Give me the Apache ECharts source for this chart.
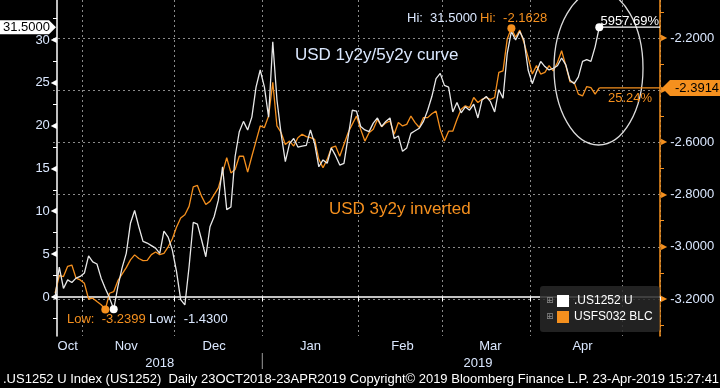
<!DOCTYPE html>
<html><head><meta charset="utf-8">
<script src="https://cdn.jsdelivr.net/npm/echarts@6/dist/echarts.min.js"></script>
<style>html,body{margin:0;padding:0;background:#000}#c{width:720px;height:388px}</style>
</head><body><div id="c"></div>
<script>
// ---- data ----
const startDate = [2018, 9, 23];   // 23 Oct 2018
const endDate = [2019, 4, 13];     // axis runs to 13 May 2019 (weekdays)
const seriesNames = ['.US1252 U', 'USFS032 BLC'];
// USD 1y2y/5y2y curve (left axis)
const usCurve = [0.0,3.5,1.0,2.0,1.7,2.2,2.4,2.8,4.8,4.1,
 3.85,2.2,1.0,-0.1,-1.43,1.2,3.4,5.1,8.6,10.1,
 8.2,6.5,6.3,6.0,5.7,5.1,7.7,7.0,5.5,3.0,
 -0.3,-0.93,3.5,8.7,8.5,6.65,4.7,8.2,9.4,11.3,
 15.2,10.2,10.5,16.4,19.3,20.5,19.5,21.0,24.5,26.5,
 24.5,21.0,29.8,23.0,19.0,15.8,17.9,18.5,17.5,17.6,
 17.7,19.5,17.9,15.2,16.0,15.6,17.4,16.5,15.4,15.6,
 18.7,21.8,21.7,19.9,19.5,19.3,20.3,20.9,19.9,20.5,
 20.9,18.5,18.8,17.0,17.4,19.1,19.4,19.7,20.5,21.8,
 23.4,25.5,26.1,24.7,24.5,21.6,22.7,21.5,22.2,21.8,
 22.5,20.9,23.0,23.4,22.8,21.6,24.2,23.2,28.4,31.0,
 30.0,31.0,30.0,26.5,24.9,26.3,27.5,26.9,26.5,26.7,
 27.0,27.9,27.1,25.3,24.9,25.7,27.5,27.7,27.5,29.2,
 31.5];
// USD 3y2y inverted (right axis)
const usfs = [-3.178,-3.11,-3.114,-3.075,-3.07,-3.12,-3.127,-3.14,-3.2,-3.197,
 -3.21,-3.222,-3.2399,-3.178,-3.172,-3.13,-3.105,-3.08,-3.05,-3.031,
 -3.045,-3.053,-3.052,-3.03,-3.02,-3.03,-3.025,-3.0,-2.97,-2.925,
 -2.89,-2.877,-2.845,-2.77,-2.765,-2.807,-2.838,-2.826,-2.8,-2.774,
 -2.717,-2.659,-2.717,-2.704,-2.653,-2.653,-2.714,-2.653,-2.595,-2.537,
 -2.543,-2.499,-2.37,-2.537,-2.563,-2.608,-2.595,-2.614,-2.582,-2.569,
 -2.578,-2.582,-2.588,-2.665,-2.697,-2.665,-2.62,-2.614,-2.653,-2.608,
 -2.563,-2.53,-2.499,-2.55,-2.595,-2.563,-2.55,-2.512,-2.54,-2.525,
 -2.518,-2.569,-2.524,-2.537,-2.531,-2.499,-2.524,-2.543,-2.505,-2.505,
 -2.49,-2.48,-2.55,-2.595,-2.557,-2.557,-2.512,-2.473,-2.46,-2.467,
 -2.428,-2.447,-2.435,-2.428,-2.435,-2.428,-2.332,-2.326,-2.204,-2.1628,
 -2.197,-2.17,-2.217,-2.274,-2.338,-2.306,-2.338,-2.332,-2.306,-2.326,
 -2.294,-2.249,-2.306,-2.368,-2.37,-2.415,-2.422,-2.386,-2.39,-2.415,
 -2.3914];
const monthNames = ['Jan','Feb','Mar','Apr','May','Jun','Jul','Aug','Sep','Oct','Nov','Dec'];
const monthLabelDates = ['2018-10-26','2018-11-15','2018-12-14','2019-01-16','2019-02-15','2019-03-18','2019-04-17'];
const yearLabelDates = {'2018-11-27':'2018','2019-03-13':'2019'};
const yearBreakDate = '2019-01-01';
const leftTicks = [0,5,10,15,20,25,30];
const rightTicks = [-3.2,-3.0,-2.8,-2.6,-2.4,-2.2];
const lastPct = ['5957.69%', '25.24%'];

// ---- categories (weekdays) ----
const dates = [];
{
  let t = Date.UTC(startDate[0], startDate[1], startDate[2]);
  const end = Date.UTC(endDate[0], endDate[1], endDate[2]);
  while (t <= end) {
    const d = new Date(t); const w = d.getUTCDay();
    if (w !== 0 && w !== 6) dates.push(d.toISOString().slice(0, 10));
    t += 86400000;
  }
}
const monthStart = dates.map((d, i) => i > 0 && d.slice(5, 7) !== dates[i - 1].slice(5, 7));

const FONT = '"Liberation Sans", Arial, sans-serif';
const ORANGE = '#f5901e';
const WHITE = '#e8e8e8';
const LBL = '#dbe8ff';
const GRIDC = '#8a8a8a';

const option = {
  backgroundColor: '#000',
  animation: false,
  textStyle: { fontFamily: FONT },
  grid: { left: 53, right: 60, top: 0, bottom: 52, containLabel: false },
  legend: {
    left: 540, top: 286, orient: 'vertical', icon: 'rect',
    itemWidth: 12, itemHeight: 12, itemGap: 4,
    padding: [9, 7, 9, 17],
    backgroundColor: 'rgba(40,40,40,0.85)', borderRadius: 3,
    textStyle: { color: '#fff', fontSize: 12, fontFamily: FONT },
    data: seriesNames
  },
  xAxis: [{
    type: 'category', data: dates, boundaryGap: true, position: 'bottom',
    axisLine: { lineStyle: { color: '#fff', width: 1.5 } },
    axisTick: { show: true, length: 4, interval: (i) => monthStart[i], lineStyle: { color: '#fff' } },
    splitLine: { show: true, interval: (i) => monthStart[i], lineStyle: { color: GRIDC, type: [2, 3], width: 1 } },
    axisLabel: {
      interval: (i, v) => monthLabelDates.indexOf(dates[i]) >= 0,
      formatter: (v) => monthNames[parseInt(v.slice(5, 7), 10) - 1],
      color: LBL, fontSize: 13, fontFamily: FONT, margin: 4
    }
  }, {
    type: 'category', data: dates, boundaryGap: true, position: 'bottom', offset: 17,
    axisLine: { show: false },
    axisTick: { show: false },
    splitLine: { show: false },
    axisLabel: {
      interval: (i) => yearLabelDates[dates[i]] !== undefined,
      formatter: (v) => yearLabelDates[v] || '',
      color: LBL, fontSize: 13, fontFamily: FONT, margin: 4
    }
  }],
  yAxis: [{
    type: 'value', position: 'left', offset: -4,
    min: -4.552, max: 34.668, splitNumber: 8,
    axisLine: { show: true, lineStyle: { color: '#fff', width: 1.5 } },
    axisTick: { show: false },
    minorTick: { show: true, splitNumber: 2, length: 4, lineStyle: { color: '#fff' } },
    splitLine: { show: false },
    axisLabel: {
      showMinLabel: false, showMaxLabel: false, margin: 0,
      formatter: (v) => leftTicks.some(t => Math.abs(t - v) < 1e-6) ? '{v|' + Math.round(v) + '}{t|◀}' : '',
      rich: {
        v: { color: LBL, fontSize: 13, fontFamily: FONT, padding: [0, 1, 0, 0] },
        t: { color: '#fff', fontSize: 8, fontFamily: 'DejaVu Sans' }
      }
    }
  }, {
    type: 'value', position: 'right',
    min: -3.3418, max: -2.0544, splitNumber: 6,
    axisLine: { show: true, lineStyle: { color: ORANGE, width: 1.5 } },
    axisTick: { show: false },
    minorTick: { show: true, splitNumber: 2, length: 4, lineStyle: { color: ORANGE } },
    splitLine: { show: true, showMinLine: false, showMaxLine: false, lineStyle: { color: GRIDC, type: [2, 3], width: 1 } },
    axisLabel: {
      showMinLabel: false, showMaxLabel: false, margin: 1,
      formatter: (v) => rightTicks.some(t => Math.abs(t - v) < 1e-6) ? '{t|▶}{v|' + v.toFixed(4) + '}' : '',
      rich: {
        v: { color: LBL, fontSize: 13, fontFamily: FONT },
        t: { color: ORANGE, fontSize: 8, fontFamily: 'DejaVu Sans', padding: [0, 3, 0, 0] }
      }
    }
  }],
  series: [{
    name: seriesNames[0], type: 'line', xAxisIndex: 0, yAxisIndex: 0, data: usCurve,
    showSymbol: false, z: 3,
    lineStyle: { color: WHITE, width: 1.3 }, itemStyle: { color: '#fff' },
    markPoint: {
      symbol: 'circle', symbolSize: 8, label: { show: false },
      itemStyle: { color: '#fff' }, data: [{ type: 'max' }, { type: 'min' }]
    }
  }, {
    name: seriesNames[1], type: 'line', xAxisIndex: 0, yAxisIndex: 1, data: usfs,
    showSymbol: false, z: 2,
    lineStyle: { color: ORANGE, width: 1.3 }, itemStyle: { color: ORANGE },
    markPoint: {
      symbol: 'circle', symbolSize: 8, label: { show: false },
      itemStyle: { color: ORANGE }, data: [{ type: 'max' }, { type: 'min' }]
    }
  }]
};

const chart = echarts.init(document.getElementById('c'), null, { renderer: 'canvas' });
chart.setOption(option);

// ---- annotations positioned through the axes ----
const last = usCurve.length - 1;
const xLast = chart.convertToPixel({ xAxisIndex: 0 }, dates[last]);
const yW = chart.convertToPixel({ yAxisIndex: 0 }, usCurve[last]);
const yO = chart.convertToPixel({ yAxisIndex: 1 }, usfs[last]);
const yb = dates.indexOf(yearBreakDate);
const xBreak = (chart.convertToPixel({ xAxisIndex: 0 }, dates[yb - 1]) + chart.convertToPixel({ xAxisIndex: 0 }, dates[yb])) / 2;
const gridRight = 720 - 60;
const fmax = (a) => Math.max.apply(null, a), fmin = (a) => Math.min.apply(null, a);
const txt = (text, x, y, color, size, extra, z) => ({
  type: 'text', z: z || 50,
  style: Object.assign({ text: text, x: x, y: y, fill: color, fontSize: size || 13, fontFamily: FONT, align: 'left', verticalAlign: 'middle' }, extra || {})
});

chart.setOption({
  graphic: [
    // ellipse highlight
    { type: 'ellipse', z: 40, shape: { cx: 598.5, cy: 68, rx: 44.5, ry: 77 }, style: { fill: 'none', stroke: '#dcdcdc', lineWidth: 1.3 } },
    // last value lines
    { type: 'line', z: 45, shape: { x1: xLast, y1: yW, x2: gridRight, y2: yW }, style: { stroke: '#fff', lineWidth: 1.3 } },
    { type: 'line', z: 45, shape: { x1: xLast, y1: yO, x2: gridRight, y2: yO }, style: { stroke: ORANGE, lineWidth: 1.3 } },
    txt(lastPct[0], gridRight - 1, yW - 6, '#fff', 13, { align: 'right' }),
    txt(lastPct[1], 608, yO + 10, ORANGE, 13),
    // left last-value tag
    { type: 'polygon', z: 60, shape: { points: [[0, yW - 7], [49, yW - 7], [56, yW], [49, yW + 7], [0, yW + 7]] }, style: { fill: '#fff' } },
    txt(usCurve[last].toFixed(4), 3, yW, '#000', 13, {}, 70),
    // right last-value tag
    { type: 'polygon', z: 60, shape: { points: [[662, yO], [670, yO - 8], [720, yO - 8], [720, yO + 8], [670, yO + 8]] }, style: { fill: ORANGE } },
    txt(usfs[last].toFixed(4), 675, yO, '#000', 13, {}, 70),
    // year separator
    { type: 'line', z: 45, shape: { x1: xBreak, y1: 353, x2: xBreak, y2: 369 }, style: { stroke: '#9a9a9a', lineWidth: 1 } },
    // hi / low labels
    txt('Hi:  ' + fmax(usCurve).toFixed(4), 407, 18, LBL, 13),
    txt('Hi:  ' + fmax(usfs).toFixed(4), 480, 18, ORANGE, 13),
    txt('Low:  ' + fmin(usfs).toFixed(4), 67, 319, ORANGE, 13),
    txt('Low:  ' + fmin(usCurve).toFixed(4), 149, 319, LBL, 13),
    // series annotations
    txt('USD 1y2y/5y2y curve', 295, 55, LBL, 17),
    txt('USD 3y2y inverted', 329, 209, ORANGE, 17),
    // legend expand glyphs
    txt('⊞', 546, 301, '#8a8a8a', 9, { fontFamily: 'DejaVu Sans' }),
    txt('⊞', 546, 317, '#8a8a8a', 9, { fontFamily: 'DejaVu Sans' }),
    // footer
    txt('.US1252 U Index (US1252)  Daily 23OCT2018-23APR2019 Copyright© 2019 Bloomberg Finance L.P. 23-Apr-2019 15:27:41', 3, 379, '#fff', 13)
  ]
});
</script>
</body></html>
